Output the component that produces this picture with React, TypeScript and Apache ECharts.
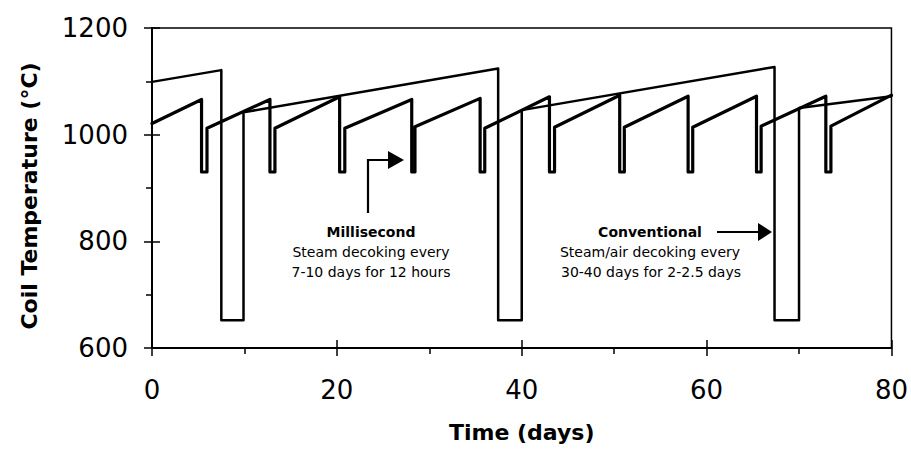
import React, { useEffect, useRef } from "react";
import * as echarts from "echarts";

// Conventional furnace: long run, then steam/air decoke (temperature drops to the decoke level)
const convStartDay = 0;
const convStartTemp = 1099;
const convPeakDay = [7.5, 37.45, 67.35];
const convPeakTemp = [1121, 1124, 1127];
const convRestartDay = [9.9, 40, 70];
const convRestartTemp = [1042, 1046, 1050];
const convDecokeTemp = 652;
const convEndDay = 80;
const convEndTemp = 1072;

// Millisecond furnace: short runs with 12-hour steam decokes
const msStartDay = 0;
const msStartTemp = 1021;
const msPeakDay = [5.36, 12.76, 20.3, 28.1, 35.5, 43.0, 50.6, 58.0, 65.4, 72.9];
const msPeakTemp = [1066, 1066, 1071, 1066, 1068, 1071, 1074, 1072, 1072, 1072];
const msRestartDay = [5.95, 13.3, 20.86, 28.45, 36.0, 43.55, 51.1, 58.5, 65.9, 73.45];
const msRestartTemp = [1012, 1012, 1012, 1015, 1012, 1014, 1014, 1014, 1016, 1016];
const msDecokeTemp = 930;
const msEndDay = 80;
const msEndTemp = 1074;

const xTicks = [0, 20, 40, 60, 80];
const yTicks = [600, 800, 1000, 1200];

// Build a saw-tooth path: rise to each peak, drop to the decoke level, hold, restart.
function buildCycles(
  startDay: number,
  startTemp: number,
  peakDay: number[],
  peakTemp: number[],
  restartDay: number[],
  restartTemp: number[],
  decokeTemp: number,
  endDay: number,
  endTemp: number
): number[][] {
  const pts: number[][] = [[startDay, startTemp]];
  for (let i = 0; i < peakDay.length; i++) {
    pts.push([peakDay[i], peakTemp[i]]);
    pts.push([peakDay[i], decokeTemp]);
    pts.push([restartDay[i], decokeTemp]);
    pts.push([restartDay[i], restartTemp[i]]);
  }
  pts.push([endDay, endTemp]);
  return pts;
}

const FONT = "'DejaVu Sans', 'Liberation Sans', Arial, sans-serif";

export default function App() {
  const ref = useRef<HTMLDivElement>(null);

  useEffect(() => {
    document.body.style.margin = "0";
    if (!ref.current) return;
    const chart = echarts.init(ref.current, undefined, { renderer: "svg" });

    const conventional = buildCycles(
      convStartDay, convStartTemp, convPeakDay, convPeakTemp,
      convRestartDay, convRestartTemp, convDecokeTemp, convEndDay, convEndTemp
    );
    const millisecond = buildCycles(
      msStartDay, msStartTemp, msPeakDay, msPeakTemp,
      msRestartDay, msRestartTemp, msDecokeTemp, msEndDay, msEndTemp
    );

    const xMin = xTicks[0];
    const xMax = xTicks[xTicks.length - 1];
    const xStep = xTicks[1] - xTicks[0];
    const yMin = yTicks[0];
    const yMax = yTicks[yTicks.length - 1];
    const yStep = yTicks[1] - yTicks[0];

    const black = "#000";
    const annFont = { fontFamily: FONT, fontSize: 14, fill: black };
    const plain = (v: number) => String(v);

    chart.setOption({
      animation: false,
      backgroundColor: "#fff",
      grid: {
        left: 152,
        right: 19,
        top: 28,
        bottom: 102,
        show: true,
        borderColor: black,
        borderWidth: 1.5,
      },
      xAxis: [
        {
          type: "value",
          min: xMin,
          max: xMax,
          interval: xStep,
          position: "bottom",
          axisLine: { show: true, lineStyle: { color: black, width: 2 } },
          axisTick: { show: true, length: 8, lineStyle: { color: black, width: 1.5 } },
          minorTick: { show: true, splitNumber: 2, length: 6, lineStyle: { color: black, width: 1.5 } },
          axisLabel: { fontFamily: FONT, fontSize: 26, color: black, margin: 29, formatter: plain },
          splitLine: { show: false },
          name: "Time (days)",
          nameLocation: "middle",
          nameGap: 73,
          nameTextStyle: { fontFamily: FONT, fontWeight: "bold", fontSize: 22, color: black },
        },
        {
          type: "value",
          min: xMin,
          max: xMax,
          interval: xStep,
          position: "bottom",
          axisLine: { show: false },
          axisTick: { show: true, inside: true, length: 8, lineStyle: { color: black, width: 1.5 } },
          axisLabel: { show: false },
          splitLine: { show: false },
        },
      ],
      yAxis: [
        {
          type: "value",
          min: yMin,
          max: yMax,
          interval: yStep,
          position: "left",
          axisLine: { show: true, lineStyle: { color: black, width: 2 } },
          axisTick: { show: true, length: 8, lineStyle: { color: black, width: 1.5 } },
          minorTick: { show: true, splitNumber: 2, length: 6, lineStyle: { color: black, width: 1.5 } },
          axisLabel: { fontFamily: FONT, fontSize: 26, color: black, margin: 24, formatter: plain },
          splitLine: { show: false },
        },
        {
          type: "value",
          min: yMin,
          max: yMax,
          interval: yStep,
          position: "left",
          axisLine: { show: false },
          axisTick: { show: true, inside: true, length: 8, lineStyle: { color: black, width: 1.5 } },
          axisLabel: { show: false },
          splitLine: { show: false },
        },
      ],
      series: [
        {
          name: "Conventional",
          type: "line",
          data: conventional,
          showSymbol: false,
          lineStyle: { color: black, width: 2.5, join: "round", cap: "round" },
          z: 3,
        },
        {
          name: "Millisecond",
          type: "line",
          data: millisecond,
          showSymbol: false,
          lineStyle: { color: black, width: 3.2, join: "round", cap: "round" },
          z: 4,
        },
      ],
      graphic: [
        {
          type: "text",
          x: 29,
          y: 196,
          rotation: Math.PI / 2,
          style: {
            text: "Coil Temperature (°C)",
            fontFamily: FONT,
            fontWeight: "bold",
            fontSize: 22,
            fill: black,
            align: "center",
            verticalAlign: "middle",
          },
        },
        // Millisecond note and its elbow arrow
        {
          type: "text",
          x: 371,
          y: 232,
          style: { ...annFont, text: "Millisecond", fontWeight: "bold", align: "center", verticalAlign: "middle" },
        },
        {
          type: "text",
          x: 371,
          y: 252,
          style: { ...annFont, text: "Steam decoking every", align: "center", verticalAlign: "middle" },
        },
        {
          type: "text",
          x: 371,
          y: 272,
          style: { ...annFont, text: "7-10 days for 12 hours", align: "center", verticalAlign: "middle" },
        },
        {
          type: "polyline",
          shape: { points: [[368, 213], [368, 160], [390, 160]] },
          style: { stroke: black, lineWidth: 2.2, fill: null },
        },
        {
          type: "polygon",
          shape: { points: [[388, 151], [404, 160], [388, 169]] },
          style: { fill: black },
        },
        // Conventional note and its arrow
        {
          type: "text",
          x: 650,
          y: 232,
          style: { ...annFont, text: "Conventional", fontWeight: "bold", align: "center", verticalAlign: "middle" },
        },
        {
          type: "text",
          x: 650,
          y: 252,
          style: { ...annFont, text: "Steam/air decoking every", align: "center", verticalAlign: "middle" },
        },
        {
          type: "text",
          x: 651,
          y: 272,
          style: { ...annFont, text: "30-40 days for 2-2.5 days", align: "center", verticalAlign: "middle" },
        },
        {
          type: "line",
          shape: { x1: 717, y1: 232, x2: 760, y2: 232 },
          style: { stroke: black, lineWidth: 2.2 },
        },
        {
          type: "polygon",
          shape: { points: [[758, 223], [772, 232], [758, 241]] },
          style: { fill: black },
        },
      ],
    });

    return () => {
      chart.dispose();
    };
  }, []);

  return <div ref={ref} style={{ width: 911, height: 450 }} />;
}
